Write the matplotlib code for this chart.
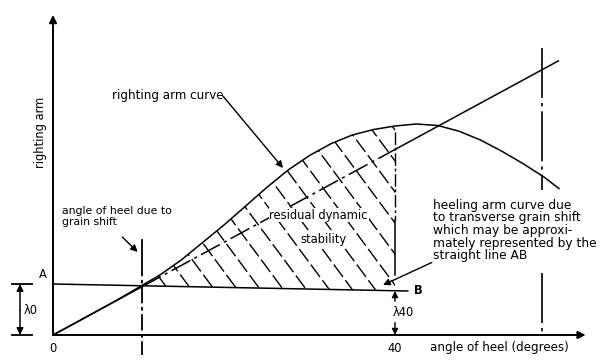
import numpy as np
import matplotlib
matplotlib.use("Agg")
import matplotlib.pyplot as plt
from matplotlib.patches import Polygon

# ---------------- data ----------------
angles = [0, 2.5, 5, 7.5, 10, 12.5, 15, 17.5, 20, 22.5, 25, 27.5, 30, 32.5,
          35, 37.5, 40, 42.5, 45, 47.5, 50, 52.5, 55, 57.5, 59.2]
righting_arm = [0, 0.046, 0.093, 0.14, 0.19, 0.24, 0.30, 0.37, 0.44, 0.515,
                0.59, 0.66, 0.718, 0.765, 0.80, 0.822, 0.836, 0.844, 0.838,
                0.815, 0.78, 0.735, 0.685, 0.63, 0.585]
tangent_slope = 0.01855          # initial slope of righting arm curve (per degree)
tangent_end = 59.1               # degrees
lambda0 = 0.204                  # heeling arm at 0 deg (A)
lambda40 = 0.176                 # heeling arm at 40 deg (B)
heel_angle = 10.4                # angle of heel due to grain shift
limit_angle = 40                 # 40 degrees
far_angle = 57.2                 # right-hand vertical marker
x_ticklabels = ["0", "40"]

# ---------------- figure ----------------
W, H = 605, 360
fig = plt.figure(figsize=(W / 100, H / 100), dpi=100)
ax = fig.add_axes([0, 0, 1, 1])
px_x, px_y = 8.55, 250.0        # pixels per unit
ox, oy = 53, 335                # origin pixel
ax.set_xlim(-ox / px_x, (W - ox) / px_x)
ax.set_ylim(-(H - oy) / px_y, oy / px_y)
ax.axis("off")
plt.rcParams["font.family"] = ["DejaVu Sans"]
fs = 8.3
lw = 1.1
k = "black"
white = dict(fc="white", ec="none", pad=0.6)

def hx(a):
    return np.interp(a, [0, limit_angle], [lambda0, lambda40])

def arrow(tip, tail, ms=10, lwa=1.0):
    ax.annotate("", xy=tip, xytext=tail,
                arrowprops=dict(arrowstyle="-|>", lw=lwa, color=k, mutation_scale=ms,
                                shrinkA=0, shrinkB=0))

# axes with arrows
arrow((0, 1.28), (0, 0), ms=11, lwa=1.4)
arrow((62.3, 0), (0, 0), ms=11, lwa=1.4)

# righting arm curve
ax.plot(angles, righting_arm, color=k, lw=lw, solid_capstyle="round",
        solid_joinstyle="round")

# tangent line: solid, dashed inside hatched area, solid again
tx = np.array([0, heel_angle, limit_angle, tangent_end])
ty = tangent_slope * tx
ax.plot(tx[:2], ty[:2], color=k, lw=lw)
ax.plot(tx[1:3], ty[1:3], color=k, lw=lw, dashes=(14, 3, 2, 3))
ax.plot(tx[2:], ty[2:], color=k, lw=lw)

# heeling arm line AB
ax.plot([0, 41.5], [lambda0, hx(41.5)], color=k, lw=lw)

# hatched residual dynamic stability area
a = np.array(angles)
g = np.array(righting_arm)
mask = (a > heel_angle) & (a < limit_angle)
top_x = np.concatenate([[heel_angle], a[mask], [limit_angle]])
top_y = np.concatenate([[hx(heel_angle)], g[mask], [np.interp(limit_angle, a, g)]])
poly_x = np.concatenate([top_x, [limit_angle, heel_angle]])
poly_y = np.concatenate([top_y, [hx(limit_angle), hx(heel_angle)]])
clip = Polygon(np.column_stack([poly_x, poly_y]), closed=True, fc="none", ec="none")
ax.add_patch(clip)
slope = -1.35 * px_x / px_y
for c in np.arange(0.2, 3.0, 2.69 * abs(slope)):
    xs = np.array([heel_angle - 5, limit_angle + 5])
    ln, = ax.plot(xs, c + slope * (xs - heel_angle), color=k, lw=1.0,
                  dashes=(11, 3))
    ln.set_clip_path(clip)

# vertical at 40 deg (right boundary)
gz40 = np.interp(limit_angle, a, g)
ax.plot([limit_angle, limit_angle], [gz40 - 0.025, 0.46], color=k, lw=1.0,
        dashes=(9, 2, 2, 2))
ax.plot([limit_angle, limit_angle], [0.46, 0.24], color=k, lw=1.1)

# vertical at angle of heel due to grain shift
ax.plot([heel_angle, heel_angle], [0.38, 0.30], color=k, lw=1.3)
ax.plot([heel_angle, heel_angle], [0.30, -0.08], color=k, lw=1.3, dashes=(9, 2, 2, 2))

# right-hand vertical marker
ax.plot([far_angle, far_angle], [1.148, 0.58], color=k, lw=1.2, dashes=(30, 3, 2, 3))
ax.plot([far_angle, far_angle], [0.25, 0.0], color=k, lw=1.2, dashes=(30, 3, 2, 3))

# lambda 0 dimension
dx0 = -3.86
ax.plot([-4.8, -2.4], [lambda0, lambda0], color=k, lw=1.3)
ax.plot([-4.8, -2.4], [0, 0], color=k, lw=1.3)
arrow((dx0, lambda0), (dx0, 0.10), ms=10, lwa=1.1)
arrow((dx0, 0), (dx0, 0.10), ms=10, lwa=1.1)
ax.text(-3.4, 0.10, "λ0", fontsize=fs, ha="left", va="center")

# lambda 40 dimension
arrow((limit_angle, lambda40), (limit_angle, 0.135), ms=9)
arrow((limit_angle, 0), (limit_angle, 0.05), ms=9)
ax.text(limit_angle - 0.3, 0.092, "λ40", fontsize=fs, ha="left", va="center")

# labels
ax.text(-1.5, 0.81, "righting arm", rotation=90, fontsize=fs,
        ha="center", va="center")
ax.text(-1.15, 0.24, "A", fontsize=fs, ha="center", va="center")
ax.text(42.2, hx(limit_angle), "B", fontsize=fs, ha="left", va="center",
        fontweight="bold")
ax.text(0, -0.052, x_ticklabels[0], fontsize=fs, ha="center", va="center")
ax.text(limit_angle, -0.052, x_ticklabels[1], fontsize=fs, ha="center", va="center")
ax.text(44.1, -0.05, "angle of heel (degrees)", fontsize=8.6, ha="left", va="center")

ax.text(6.9, 0.96, "righting arm curve", fontsize=8.6, ha="left", va="center")
arrow((26.9, 0.668), (19.9, 0.955))

ax.text(1.05, 0.474, "angle of heel due to\ngrain shift", fontsize=7.8, ha="left",
        va="center", linespacing=1.15)
arrow((9.9, 0.332), (8.1, 0.392))

ax.text(25.3, 0.48, "residual dynamic", fontsize=fs, ha="left", va="center",
        bbox=white)
ax.text(28.9, 0.38, "stability", fontsize=fs, ha="left", va="center", bbox=white)

ax.text(44.4, 0.418,
        "heeling arm curve due\nto transverse grain shift\nwhich may be approxi-\n"
        "mately represented by the\nstraight line AB",
        fontsize=8.8, ha="left", va="center", linespacing=0.97,
        bbox=dict(fc="white", ec="none", pad=1.0))
arrow((38.6, 0.20), (44.3, 0.29))

fig.savefig("out.png", dpi=100, facecolor="white")
